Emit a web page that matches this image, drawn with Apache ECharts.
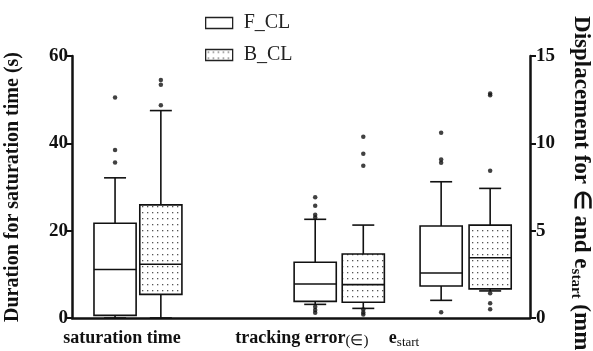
<!DOCTYPE html>
<html>
<head>
<meta charset="utf-8">
<script src="https://cdn.jsdelivr.net/npm/echarts@6/dist/echarts.min.js"></script>
<style>
html, body { margin: 0; padding: 0; background: #fff; }
#chart { width: 593px; height: 351px; }
</style>
</head>
<body>
<div id="chart"></div>
<script>
// box stats: [min, q1, median, q3, max]
var fSat = [0, 0.6, 11.1, 21.7, 32.1];
var bSat = [0, 5.4, 12.3, 25.9, 47.5];
var fTrk = [0.78, 0.95, 1.95, 3.19, 5.65];
var bTrk = [0.55, 0.90, 1.91, 3.66, 5.32];
var fEst = [1.01, 1.83, 2.58, 5.27, 7.80];
var bEst = [1.55, 1.67, 3.45, 5.32, 7.42];

// outliers
var fSatOut = [50.5, 38.5, 35.6];
var bSatOut = [54.5, 53.4, 48.7];
var fTrkOut = [6.91, 6.43, 5.91, 5.76, 0.65, 0.46, 0.30];
var bTrkOut = [10.38, 9.41, 8.72, 0.48, 0.32, 0.20];
var fEstOut = [10.6, 9.08, 8.89, 0.33];
var bEstOut = [12.86, 12.76, 8.43, 1.41, 0.84, 0.50];

var leftTicks = [0, 20, 40, 60];
var rightTicks = [0, 5, 10, 15];
var groupNames = ['saturation time', 'tracking error', 'e_start'];

// layout (x axis runs 0..100 across the plot)
var slotF = [9.4, 53.1, 80.6];
var slotB = [19.4, 63.6, 91.3];
var labelSlot = [10.9, 50.2, 72.5];
var boxW = 9.2, capW = 4.8;

var font = '"Liberation Serif", "Times New Roman", serif';

// dotted fill
var pat = document.createElement('canvas');
pat.width = 5; pat.height = 6;
var pc = pat.getContext('2d');
pc.fillStyle = '#fff'; pc.fillRect(0, 0, 5, 6);
pc.fillStyle = '#555'; pc.fillRect(2, 2, 1.3, 1.3);
var dotFill = { image: pat, repeat: 'repeat' };

function boxRender(fill) {
    return function (params, api) {
        var x = api.value(0);
        var pMin = api.coord([x, api.value(1)]);
        var pQ1 = api.coord([x, api.value(2)]);
        var pMed = api.coord([x, api.value(3)]);
        var pQ3 = api.coord([x, api.value(4)]);
        var pMax = api.coord([x, api.value(5)]);
        var w = api.size([boxW, 0])[0];
        var cw = api.size([capW, 0])[0];
        var cx = pMed[0];
        var ln = { stroke: '#111', lineWidth: 1.6, fill: null };
        return {
            type: 'group',
            children: [
                { type: 'line', shape: { x1: cx, y1: pMax[1], x2: cx, y2: pQ3[1] }, style: ln },
                { type: 'line', shape: { x1: cx, y1: pQ1[1], x2: cx, y2: pMin[1] }, style: ln },
                { type: 'line', shape: { x1: cx - cw / 2, y1: pMax[1], x2: cx + cw / 2, y2: pMax[1] }, style: ln },
                { type: 'line', shape: { x1: cx - cw / 2, y1: pMin[1], x2: cx + cw / 2, y2: pMin[1] }, style: ln },
                { type: 'rect', shape: { x: cx - w / 2, y: pQ3[1], width: w, height: pQ1[1] - pQ3[1] },
                  style: { fill: fill, stroke: '#111', lineWidth: 1.6 } },
                { type: 'line', shape: { x1: cx - w / 2, y1: pMed[1], x2: cx + w / 2, y2: pMed[1] }, style: ln }
            ]
        };
    };
}

function boxSeries(name, fill, axis, rows) {
    return {
        type: 'custom', name: name, yAxisIndex: axis,
        renderItem: boxRender(fill),
        encode: { x: 0, y: [1, 2, 3, 4, 5] },
        data: rows, z: 2
    };
}
function outSeries(name, axis, pts) {
    return {
        type: 'scatter', name: name, yAxisIndex: axis,
        symbolSize: 4.5, itemStyle: { color: '#111' },
        data: pts, z: 3
    };
}
function row(x, s) { return [x].concat(s); }
function pts(x, arr) { return arr.map(function (v) { return [x, v]; }); }

var chart = echarts.init(document.getElementById('chart'));
chart.setOption({
    animation: false,
    backgroundColor: '#fff',
    grid: { left: 72, right: 63, top: 56, bottom: 33, containLabel: false, outerBoundsMode: 'none' },
    legend: {
        orient: 'vertical', left: 200, top: 8, itemGap: 12,
        itemWidth: 27, itemHeight: 11,
        textStyle: { fontFamily: font, fontSize: 20, color: '#222', padding: [0, 0, 0, 6] },
        data: [
            { name: 'F_CL', icon: 'rect', itemStyle: { color: '#fff', borderColor: '#222', borderWidth: 1.3 } },
            { name: 'B_CL', icon: 'rect', itemStyle: { color: dotFill, borderColor: '#222', borderWidth: 1.3 } }
        ]
    },
    xAxis: {
        type: 'value', min: 0, max: 100,
        splitLine: { show: false },
        axisLine: { show: true, lineStyle: { color: '#111', width: 2.5 } },
        axisTick: { show: false },
        axisLabel: {
            customValues: labelSlot, margin: 9,
            formatter: function (v) {
                var i = labelSlot.findIndex(function (p) { return Math.abs(p - v) < 0.01; });
                if (i === 0) return '{b|' + groupNames[0] + '}';
                if (i === 1) return '{b|' + groupNames[1] + '}{n|(∈)}';
                if (i === 2) return '{b|e}{sub|start}';
                return '';
            },
            rich: {
                b: { fontFamily: font, fontWeight: 'bold', fontSize: 18, color: '#111', lineHeight: 22 },
                n: { fontFamily: font, fontSize: 15, color: '#111', lineHeight: 18, verticalAlign: 'bottom' },
                sub: { fontFamily: font, fontSize: 13, color: '#111', lineHeight: 15, verticalAlign: 'bottom' }
            }
        }
    },
    yAxis: [
        {
            type: 'value', min: 0, max: 60, interval: 20, position: 'left',
            name: 'Duration for saturation time (s)', nameLocation: 'middle', nameGap: 49, nameRotate: 90,
            nameTextStyle: { fontFamily: font, fontWeight: 'bold', fontSize: 20, color: '#111' },
            splitLine: { show: false },
            axisLine: { show: true, lineStyle: { color: '#111', width: 2.5 } },
            axisTick: { show: true, length: 7, lineStyle: { width: 2, color: '#111' } },
            axisLabel: {
                fontFamily: font, fontWeight: 'bold', fontSize: 19, color: '#111', margin: 4,
                formatter: function (v) { return leftTicks.indexOf(v) >= 0 ? String(v) : ''; }
            }
        },
        {
            type: 'value', min: 0, max: 15, interval: 5, position: 'right',
            name: '{b|Displacement for ∈ and e}{sub|start}{b| (mm)}', nameLocation: 'middle', nameGap: 38, nameRotate: -90,
            nameTextStyle: {
                fontFamily: font, fontWeight: 'bold', fontSize: 23, color: '#111',
                rich: {
                    b: { fontFamily: font, fontWeight: 'bold', fontSize: 23, color: '#111', lineHeight: 26 },
                    sub: { fontFamily: font, fontSize: 15, color: '#111', lineHeight: 18, verticalAlign: 'bottom' }
                }
            },
            splitLine: { show: false },
            axisLine: { show: true, lineStyle: { color: '#111', width: 2.5 } },
            axisTick: { show: true, length: 6, lineStyle: { width: 2, color: '#111' } },
            axisLabel: {
                fontFamily: font, fontWeight: 'bold', fontSize: 19, color: '#111', margin: 6,
                formatter: function (v) { return rightTicks.indexOf(v) >= 0 ? String(v) : ''; }
            }
        }
    ],
    series: [
        boxSeries('F_CL', '#fff', 0, [row(slotF[0], fSat)]),
        boxSeries('B_CL', dotFill, 0, [row(slotB[0], bSat)]),
        boxSeries('F_CL', '#fff', 1, [row(slotF[1], fTrk), row(slotF[2], fEst)]),
        boxSeries('B_CL', dotFill, 1, [row(slotB[1], bTrk), row(slotB[2], bEst)]),
        outSeries('F_CL', 0, pts(slotF[0], fSatOut)),
        outSeries('B_CL', 0, pts(slotB[0], bSatOut)),
        outSeries('F_CL', 1, pts(slotF[1], fTrkOut).concat(pts(slotF[2], fEstOut))),
        outSeries('B_CL', 1, pts(slotB[1], bTrkOut).concat(pts(slotB[2], bEstOut)))
    ]
});
</script>
</body>
</html>
